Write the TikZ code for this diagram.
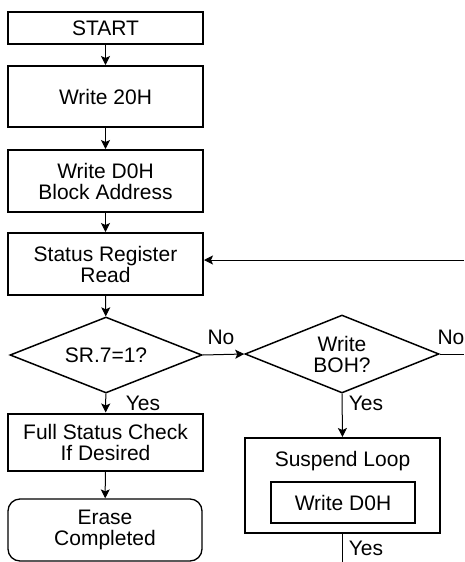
\documentclass[tikz,border=0pt]{standalone}
\usepackage{fontspec}
\setmainfont{Liberation Sans}
\usetikzlibrary{shapes.geometric,arrows.meta}
\begin{document}
\begin{tikzpicture}[x=1pt,y=-1pt,
  every node/.style={font=\fontsize{21}{21}\selectfont, inner sep=0pt, align=center},
  box/.style={draw, line width=2pt, minimum width=195pt},
  dec/.style={draw, diamond, aspect=2.5, line width=1.5pt},
  conn/.style={line width=1pt},
  arr/.style={conn, -{Stealth[length=9pt,width=9pt,inset=2pt]}},
  lbl/.style={font=\fontsize{21}{21}\selectfont}]
\useasboundingbox (0,0) rectangle (464,562);
\node[box, minimum height=32pt] (start) at (105.5,28) {START};
\node[box, minimum height=61pt] (w20) at (105.5,96.5) {Write 20H};
\node[box, minimum height=62pt] (wd0) at (105.5,181) {Write D0H\\Block Address};
\node[box, minimum height=62pt] (srr) at (105.5,264) {Status Register\\Read};
\node[dec, minimum width=192pt, minimum height=76pt] (d1) at (106,355) {SR.7=1?};
\node[box, minimum height=57pt] (fsc) at (105.5,442) {Full Status Check\\If Desired};
\node[draw, line width=1.3pt, rounded corners=12pt, minimum width=194pt, minimum height=62pt] (erase) at (105,530) {Erase\\Completed};
\node[dec, minimum width=194pt, minimum height=78pt] (d2) at (342,354) {Write\\BOH?};
\node[box, minimum height=95pt] (susp) at (342.5,485.5) {};
\node (susplbl) at (342.5,461) {Suspend Loop};
\node[draw, line width=2pt, minimum width=144pt, minimum height=41pt] (inner) at (343,502.5) {Write D0H};
\coordinate (back) at (464,260);
\coordinate (noend) at (464,354);
\coordinate (yesend) at (342.5,562);
\draw[arr] (start) -- (w20);
\draw[arr] (w20) -- (wd0);
\draw[arr] (wd0) -- (srr);
\draw[arr] (srr) -- (d1);
\draw[arr] (d1) -- (fsc);
\draw[arr] (fsc) -- (erase);
\draw[arr] (d1.east) -- (d2.west);
\draw[arr] (d2.south) -- (susp.north);
\draw[conn] (d2.east) -- (noend);
\draw[arr] (back) -- (back -| srr.east);
\draw[conn] (susp.south) -- (yesend);
\node[lbl] (no1) at (221,337) {No};
\node[lbl] (no2) at (451,337) {No};
\node[lbl] (yes1) at (143,403) {Yes};
\node[lbl] (yes2) at (366,403) {Yes};
\node[lbl] (yes3) at (366,548) {Yes};
\end{tikzpicture}
\end{document}
